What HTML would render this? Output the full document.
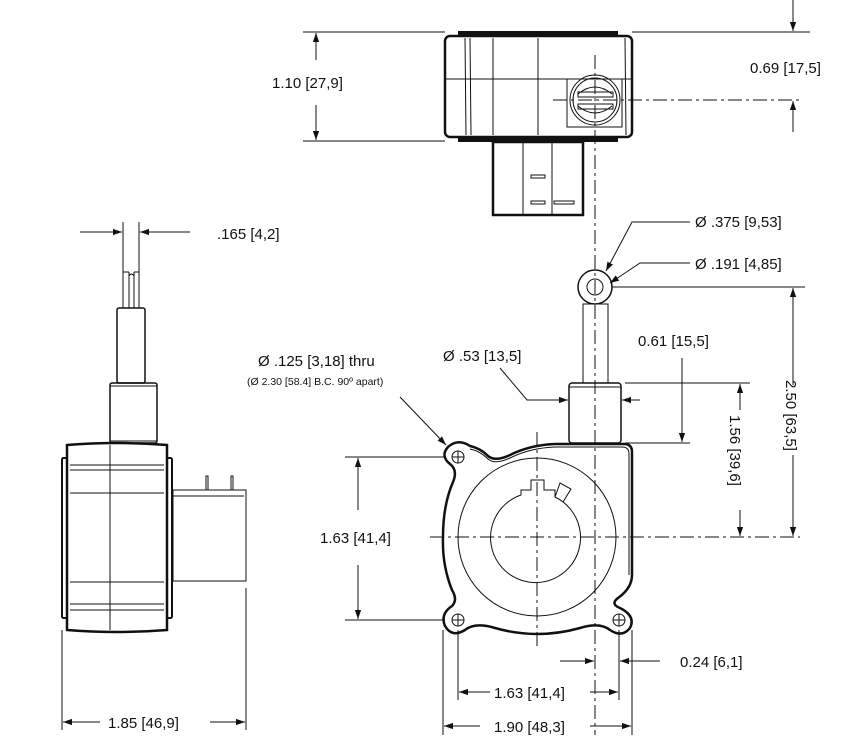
<!DOCTYPE html>
<html><head><meta charset="utf-8"><style>
html,body{margin:0;padding:0;background:#fff}
svg{display:block}
text{font-family:"Liberation Sans",sans-serif;font-size:15px;fill:#111}
</style></head><body>
<svg width="844" height="750" viewBox="0 0 844 750" xmlns="http://www.w3.org/2000/svg">
<defs>
<marker id="a" viewBox="0 0 10 10" refX="10" refY="5" markerWidth="9" markerHeight="9" orient="auto-start-reverse" markerUnits="userSpaceOnUse"><path d="M0,1.5 L10,5 L0,8.5 z" fill="#111"/></marker>
</defs>
<g fill="none" stroke="#111" stroke-width="1">
<!-- TOP VIEW -->
<rect x="445" y="36" width="187" height="101" rx="5" stroke-width="2.5"/>
<line x1="458" y1="33" x2="618" y2="33" stroke-width="4"/>
<line x1="458" y1="140" x2="618" y2="140" stroke-width="4"/>
<line x1="465" y1="38" x2="466" y2="135"/>
<line x1="470" y1="38" x2="471" y2="135"/>
<line x1="493" y1="38" x2="493" y2="135"/>
<line x1="538" y1="38" x2="538" y2="135"/>
<line x1="625" y1="38" x2="626" y2="135"/>
<line x1="445" y1="79" x2="632" y2="79"/>
<rect x="567" y="79" width="55" height="48"/>
<circle cx="595" cy="100" r="25"/>
<circle cx="595" cy="100" r="22"/>
<path d="M578,94 Q595,80 612,94 M578,106 Q595,120 612,106"/>
<rect x="578" y="92" width="35" height="5"/>
<rect x="578" y="104" width="35" height="5"/>
<rect x="493" y="142" width="90" height="73" stroke-width="2.5"/>
<line x1="523" y1="142" x2="523" y2="215"/>
<line x1="552" y1="142" x2="552" y2="215"/>
<rect x="531" y="175" width="14" height="3"/>
<rect x="531" y="201" width="14" height="3"/>
<rect x="554" y="201" width="20" height="3"/>
<line x1="595" y1="55" x2="595" y2="735" stroke-dasharray="14,4,3,4"/>
<line x1="553" y1="100" x2="800" y2="100" stroke-dasharray="14,4,3,4"/>
<!-- 1.10 dim -->
<line x1="303" y1="32" x2="445" y2="32"/>
<line x1="303" y1="141" x2="445" y2="141"/>
<line x1="316" y1="60" x2="316" y2="33" marker-end="url(#a)"/>
<line x1="316" y1="105" x2="316" y2="140" marker-end="url(#a)"/>
<line x1="632" y1="32" x2="810" y2="32"/>
<line x1="793" y1="0" x2="793" y2="31" marker-end="url(#a)"/>
<line x1="793" y1="132" x2="793" y2="101" marker-end="url(#a)"/>

<!-- SIDE VIEW -->
<line x1="123" y1="222" x2="123" y2="308"/>
<line x1="139" y1="222" x2="139" y2="308"/>
<line x1="129" y1="272" x2="129" y2="308"/>
<line x1="134" y1="272" x2="134" y2="308"/>
<path d="M123,272 h6 M134,272 h5 M129,276 q2.5,-4 5,0"/>
<line x1="80" y1="232" x2="122" y2="232" marker-end="url(#a)"/>
<line x1="190" y1="232" x2="140" y2="232" marker-end="url(#a)"/>
<rect x="117" y="308" width="28" height="75" rx="2" stroke-width="1.5"/>
<rect x="110" y="383" width="47" height="60" rx="2" stroke-width="1.5"/>
<line x1="110" y1="386" x2="157" y2="386"/>
<line x1="110" y1="441" x2="157" y2="441"/>
<path d="M67,445 Q117,441 167,445 L167,630 Q117,634 67,630 Z" stroke-width="2.5"/>
<rect x="62" y="458" width="5" height="160" rx="1.5" stroke-width="2"/>
<rect x="167" y="458" width="5" height="160" rx="1.5" stroke-width="2"/>
<line x1="70" y1="465" x2="164" y2="465"/>
<line x1="70" y1="470" x2="164" y2="470"/>
<line x1="70" y1="493" x2="164" y2="493"/>
<line x1="70" y1="582" x2="164" y2="582"/>
<line x1="70" y1="604" x2="164" y2="604"/>
<line x1="70" y1="610" x2="164" y2="610"/>
<line x1="110" y1="445" x2="110" y2="630"/>
<rect x="173" y="490" width="73" height="91"/>
<line x1="173" y1="496" x2="244" y2="496"/>
<rect x="206" y="476" width="2" height="14"/>
<rect x="231" y="476" width="2" height="14"/>
<line x1="62" y1="630" x2="62" y2="730"/>
<line x1="246" y1="588" x2="246" y2="730"/>
<line x1="100" y1="722" x2="63" y2="722" marker-end="url(#a)"/>
<line x1="210" y1="722" x2="245" y2="722" marker-end="url(#a)"/>

<!-- FRONT VIEW -->
<circle cx="595" cy="287" r="17" stroke-width="1.5"/>
<circle cx="595" cy="287" r="8"/>
<rect x="583" y="304" width="25" height="79"/>
<rect x="569" y="383" width="52" height="60" rx="3" stroke-width="1.5"/>
<line x1="569" y1="387" x2="621" y2="387"/>
<path d="M470,446 Q480,448 488,456 Q495,462 510,455 Q530,445 555,444 L624,444 Q632,444 632,452 L632,575 Q632,588 618,598 Q610,604 620,608 Q636,616 630,628 Q622,638 610,630 Q600,622 580,628 Q537,640 495,628 Q475,622 465,630 Q452,638 445,626 Q440,614 452,606 Q458,600 452,590 Q442,565 443,537 Q443,505 453,482 Q458,470 450,464 Q440,456 448,447 Q458,438 470,446 Z" stroke-width="2.5"/>
<path d="M470,449 Q480,451 488,459 Q495,465 510,458 Q530,448 555,447 L622,447 Q629,447 629,454 L629,575" />
<circle cx="537" cy="537" r="79"/>
<path d="M521,495 L521,490 L531,490 L531,480 L544,480 L544,490 L555,490 L555,497 A45,45 0 1 1 521,495 Z"/>
<path d="M555,497 L560,483 L571,489 L563,502"/>
<circle cx="458" cy="457" r="6"/><path d="M452,457 h12 M458,451 v12"/>
<circle cx="458" cy="620" r="6"/><path d="M452,620 h12 M458,614 v12"/>
<circle cx="619" cy="620" r="6"/><path d="M613,620 h12 M619,614 v12"/>
<line x1="430" y1="537" x2="800" y2="537" stroke-dasharray="14,4,3,4"/>
<line x1="537" y1="432" x2="537" y2="650" stroke-dasharray="14,4,3,4"/>
<!-- front dims -->
<line x1="345" y1="457" x2="445" y2="457"/>
<line x1="345" y1="620" x2="445" y2="620"/>
<line x1="358" y1="510" x2="358" y2="458" marker-end="url(#a)"/>
<line x1="358" y1="565" x2="358" y2="619" marker-end="url(#a)"/>
<line x1="458" y1="630" x2="458" y2="700"/>
<line x1="619" y1="630" x2="619" y2="700"/>
<line x1="443" y1="630" x2="443" y2="735"/>
<line x1="632" y1="630" x2="632" y2="735"/>
<line x1="490" y1="692" x2="459" y2="692" marker-end="url(#a)"/>
<line x1="590" y1="692" x2="618" y2="692" marker-end="url(#a)"/>
<line x1="480" y1="726" x2="444" y2="726" marker-end="url(#a)"/>
<line x1="590" y1="726" x2="631" y2="726" marker-end="url(#a)"/>
<line x1="560" y1="661" x2="594" y2="661" marker-end="url(#a)"/>
<line x1="660" y1="661" x2="620" y2="661" marker-end="url(#a)"/>
<line x1="625" y1="383" x2="750" y2="383"/>
<line x1="625" y1="443" x2="690" y2="443"/>
<line x1="682" y1="358" x2="682" y2="442" marker-end="url(#a)"/>
<line x1="740" y1="410" x2="740" y2="384" marker-end="url(#a)"/>
<line x1="740" y1="510" x2="740" y2="536" marker-end="url(#a)"/>
<line x1="612" y1="287" x2="805" y2="287"/>
<line x1="793" y1="385" x2="793" y2="288" marker-end="url(#a)"/>
<line x1="793" y1="455" x2="793" y2="536" marker-end="url(#a)"/>
<path d="M500,368 L527,400 L568,400" marker-end="url(#a)"/>
<line x1="640" y1="400" x2="622" y2="400" marker-end="url(#a)"/>
<path d="M690,222 L632,222 L606,271" marker-end="url(#a)"/>
<path d="M690,263 L640,263 L610,283" marker-end="url(#a)"/>
<line x1="400" y1="397" x2="446" y2="445" marker-end="url(#a)"/>
</g>
<g>
<text x="272" y="88">1.10 [27,9]</text>
<text x="750" y="73">0.69 [17,5]</text>
<text x="217" y="239">.165 [4,2]</text>
<text x="695" y="227">Ø .375 [9,53]</text>
<text x="695" y="269">Ø .191 [4,85]</text>
<text x="258" y="366">Ø .125 [3,18] thru</text>
<text x="247" y="385" style="font-size:10.5px">(Ø 2.30 [58.4] B.C. 90º apart)</text>
<text x="443" y="361">Ø .53 [13,5]</text>
<text x="638" y="346">0.61 [15,5]</text>
<text x="320" y="543">1.63 [41,4]</text>
<text x="680" y="667">0.24 [6,1]</text>
<rect x="490" y="683" width="100" height="18" fill="#fff"/>
<text x="494" y="698">1.63 [41,4]</text>
<rect x="480" y="717" width="110" height="18" fill="#fff"/>
<text x="494" y="732">1.90 [48,3]</text>
<text x="108" y="728">1.85 [46,9]</text>
<text transform="translate(730,415) rotate(90)">1.56 [39,6]</text>
<text transform="translate(786,380) rotate(90)">2.50 [63,5]</text>
</g>
</svg>
</body></html>
